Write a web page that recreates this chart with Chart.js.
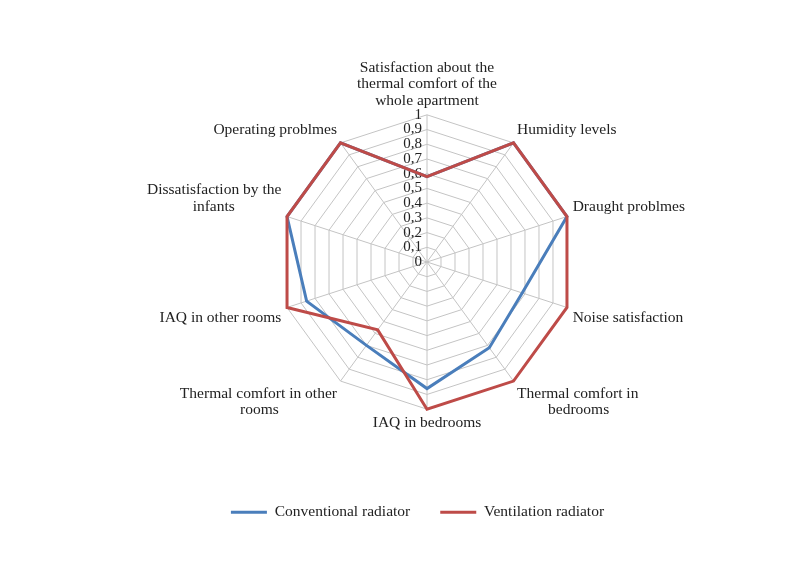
<!DOCTYPE html>
<html>
<head>
<meta charset="utf-8">
<script src="https://cdn.jsdelivr.net/npm/chart.js@4.4.0/dist/chart.umd.min.js"></script>
<style>
  html, body { margin: 0; padding: 0; background: #fff; }
  #wrap { width: 810px; height: 580px; }
</style>
</head>
<body>
<div id="wrap"><canvas id="radar"></canvas></div>
<script>
// non-breaking spaces nudge the short second lines toward the middle, as in the original
var nb = function(n) { return '\u00a0'.repeat(n); };

var categories = [
    ["Satisfaction about the", "thermal comfort of the", "whole apartment"],
    "Humidity levels",
    "Draught problmes",
    "Noise satisfaction",
    ["Thermal comfort in", nb(8) + "bedrooms"],
    "IAQ in bedrooms",
    ["Thermal comfort in other", "rooms" + nb(15)],
    "IAQ in other rooms",
    ["Dissatisfaction by the", "infants" + nb(12)],
    "Operating problmes"
];
var conventional = [0.58, 1, 1, 0.68, 0.72, 0.86, 0.70, 0.86, 1, 1];
var ventilation = [0.58, 1, 1, 1, 1, 1, 0.57, 1, 1, 1];
var tickValues = [0, 0.1, 0.2, 0.3, 0.4, 0.5, 0.6, 0.7, 0.8, 0.9, 1];

var serif = "'Liberation Serif', 'DejaVu Serif', serif";

// tick labels sit left of the top axis, like the excel original
var leftTicks = {
    id: 'leftTicks',
    beforeDatasetsDraw: function(chart) {
        var s = chart.scales.r;
        var c = chart.ctx;
        c.save();
        c.font = '15px ' + serif;
        c.fillStyle = '#222';
        c.textAlign = 'right';
        c.textBaseline = 'middle';
        tickValues.forEach(function(v) {
            var d = s.getDistanceFromCenterForValue(v);
            c.fillText(String(v).replace('.', ','), s.xCenter - 5, s.yCenter - d);
        });
        c.restore();
    }
};

var ctx = document.getElementById("radar");

var radar = new Chart(ctx, {
    type: 'radar',
    data: {
        labels: categories,
        datasets: [{
            label: 'Conventional radiator',
            data: conventional,
            borderColor: '#4a7ebb',
            backgroundColor: '#4a7ebb',
            borderWidth: 3,
            fill: false,
            pointRadius: 0,
            order: 1
        }, {
            label: 'Ventilation radiator',
            data: ventilation,
            borderColor: '#be4b48',
            backgroundColor: '#be4b48',
            borderWidth: 3,
            fill: false,
            pointRadius: 0,
            order: 0
        }]
    },
    options: {
        responsive: true,
        maintainAspectRatio: false,
        animation: false,
        layout: {
            padding: { top: 44, bottom: 50, left: 105, right: 80 }
        },
        plugins: {
            legend: {
                position: 'bottom',
                // empty title only used as a spacer above the legend
                title: { display: true, text: '', font: { size: 10 }, padding: { top: 14, bottom: 0 } },
                labels: {
                    usePointStyle: true,
                    pointStyle: 'line',
                    pointStyleWidth: 36,
                    padding: 30,
                    color: '#222',
                    font: { family: serif, size: 15.5 },
                    sort: function(a, b) { return a.datasetIndex - b.datasetIndex; }
                }
            },
            tooltip: { enabled: false }
        },
        scales: {
            r: {
                min: 0,
                max: 1,
                ticks: { display: false, stepSize: 0.1 },
                grid: { color: '#c4c4c4', lineWidth: 1 },
                angleLines: { color: '#c4c4c4', lineWidth: 1 },
                pointLabels: {
                    color: '#222',
                    padding: 6,
                    font: { family: serif, size: 15.5, lineHeight: 1.05 }
                }
            }
        }
    },
    plugins: [leftTicks]
});
</script>
</body>
</html>
